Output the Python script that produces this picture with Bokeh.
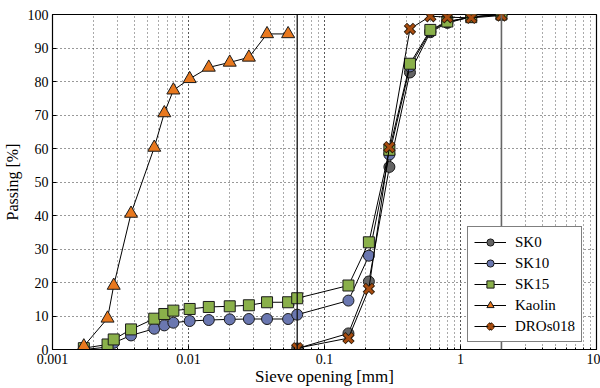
from bokeh.plotting import figure
from bokeh.models import Span, Legend, LogTicker, FixedTicker
from bokeh.embed import file_html
from bokeh.resources import INLINE

# ---- data ----
sk0_x = [0.063, 0.15, 0.212, 0.3, 0.425, 0.6, 0.8, 1.2, 2.0]
sk0_y = [0.3, 4.8, 20.3, 54.5, 82.7, 94.7, 97.5, 99.3, 100.0]

sk10_x = [0.0017, 0.00254, 0.00282, 0.00378, 0.0056, 0.00664, 0.00774, 0.0102,
          0.0141, 0.0201, 0.0278, 0.0378, 0.054, 0.063, 0.15, 0.212, 0.3, 0.425,
          0.6, 0.8, 1.2, 2.0]
sk10_y = [0.0, 0.7, 2.0, 4.2, 6.2, 7.2, 8.0, 8.5, 8.8, 9.0, 9.1, 9.1, 9.1, 10.4,
          14.6, 28.0, 58.2, 84.5, 95.0, 97.8, 99.3, 100.0]

sk15_x = [0.0017, 0.00254, 0.00282, 0.00378, 0.0056, 0.00664, 0.00774, 0.0102,
          0.0141, 0.0201, 0.0278, 0.0378, 0.054, 0.063, 0.15, 0.212, 0.3, 0.425,
          0.6, 0.8, 1.2, 2.0]
sk15_y = [0.4, 1.5, 3.0, 6.0, 9.2, 10.6, 11.6, 12.1, 12.7, 12.9, 13.2, 14.1, 14.1,
          15.3, 19.1, 32.0, 59.6, 85.3, 95.4, 97.9, 99.2, 100.0]

kaolin_x = [0.0017, 0.00254, 0.00282, 0.00378, 0.0056, 0.00664, 0.00774, 0.0102,
            0.0141, 0.0201, 0.0278, 0.0378, 0.054]
kaolin_y = [1.0, 9.3, 19.1, 40.6, 60.3, 70.6, 77.4, 80.8, 84.2, 85.7, 87.2, 94.2, 94.2]

dros_x = [0.063, 0.15, 0.212, 0.3, 0.425, 0.6, 0.8, 1.2, 2.0]
dros_y = [0.4, 3.4, 18.1, 60.4, 95.7, 99.5, 99.2, 99.0, 99.7]

x_ticks = [0.001, 0.01, 0.1, 1, 10]
y_ticks = [0, 10, 20, 30, 40, 50, 60, 70, 80, 90, 100]
boundaries = [0.063, 2.0]

FONT = "'Liberation Serif', 'Times New Roman', serif"

p = figure(width=600, height=388, x_axis_type="log", x_range=(0.001, 10),
           y_range=(0, 100), output_backend="svg", toolbar_location=None,
           min_border_left=52, min_border_right=4, min_border_top=14,
           min_border_bottom=39)

p.outline_line_color = "black"
p.outline_line_width = 1.2
p.background_fill_color = "white"

# axes
p.xaxis.ticker = LogTicker(num_minor_ticks=10)
p.xaxis.major_label_overrides = {0.001: "0.001", 0.01: "0.01", 0.1: "0.1", 1: "1", 10: "10"}
p.yaxis.ticker = FixedTicker(ticks=y_ticks)
for ax in (p.xaxis[0], p.yaxis[0]):
    ax.major_label_text_font = FONT
    ax.major_label_text_font_size = "14px"
    ax.major_label_text_color = "black"
    ax.axis_label_text_font = FONT
    ax.axis_label_text_font_style = "normal"
    ax.axis_label_text_color = "black"
    ax.axis_line_color = "black"
    ax.major_tick_in = 4
    ax.major_tick_out = 0
    ax.minor_tick_in = 2
    ax.minor_tick_out = 0
    ax.major_label_standoff = 4
p.xaxis.axis_label = "Sieve opening [mm]"
p.yaxis.axis_label = "Passing [%]"
p.xaxis.axis_label_text_font_size = "17px"
p.yaxis.axis_label_text_font_size = "16px"
p.xaxis.axis_label_standoff = 0
p.yaxis.axis_label_standoff = 4

# grid
p.xgrid.ticker = LogTicker(num_minor_ticks=10)
p.xgrid.grid_line_color = "#333333"
p.xgrid.grid_line_dash = "1 3"
p.xgrid.minor_grid_line_color = "#555555"
p.xgrid.minor_grid_line_dash = "1 3"
p.ygrid.ticker = FixedTicker(ticks=y_ticks)
p.ygrid.grid_line_color = "#333333"
p.ygrid.grid_line_dash = "1 3"

# boundary lines
p.add_layout(Span(location=boundaries[0], dimension="height", line_color="#111111", line_width=1.3))
p.add_layout(Span(location=boundaries[1], dimension="height", line_color="#666666", line_width=1.6))

series = [
    ("SK0", sk0_x, sk0_y, "circle", "#646464", 11),
    ("SK10", sk10_x, sk10_y, "circle", "#6a77b0", 11),
    ("SK15", sk15_x, sk15_y, "square", "#8ab04a", 11),
    ("Kaolin", kaolin_x, kaolin_y, "triangle", "#e8781e", 13),
    ("DROs018", dros_x, dros_y, "x", "#a84d10", 13),
]

items = []
for name, xs, ys, marker, color, size in series:
    ln = p.line(xs, ys, line_color="black", line_width=1)
    if marker == "x":
        sc0 = p.scatter(xs, ys, marker="x", size=size, line_color="#2a1a0a", line_width=4.6)
        sc = p.scatter(xs, ys, marker="x", size=size - 1.5, line_color=color, line_width=2.8)
        items.append((name, [ln, sc0, sc]))
    else:
        sc = p.scatter(xs, ys, marker=marker, size=size, fill_color=color,
                       line_color="#1a1a1a", line_width=1)
        items.append((name, [ln, sc]))

legend = Legend(items=items, location=(415, 7))
legend.label_text_font = FONT
legend.label_text_font_size = "15px"
legend.label_text_color = "black"
legend.border_line_color = "black"
legend.border_line_width = 1
legend.background_fill_color = "white"
legend.background_fill_alpha = 1
legend.glyph_width = 32
legend.glyph_height = 18
legend.label_height = 18
legend.spacing = 3
legend.padding = 6
legend.margin = 0
legend.label_standoff = 9
p.add_layout(legend, "center")

open("out.html", "w").write(file_html(p, INLINE))
